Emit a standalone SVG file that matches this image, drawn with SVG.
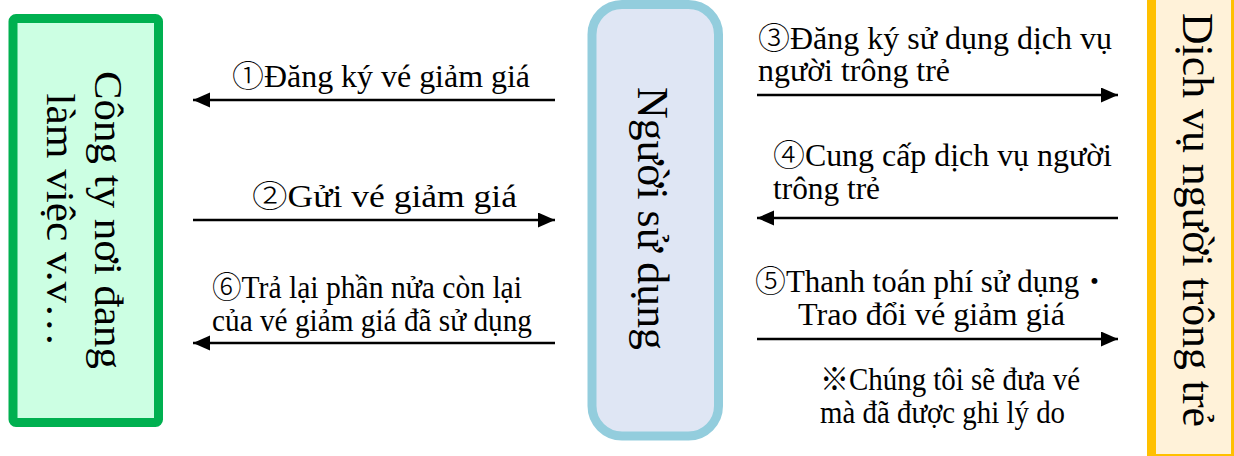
<svg xmlns="http://www.w3.org/2000/svg" width="1234" height="456" viewBox="0 0 1234 456">
<style>
text{font-family:'Liberation Serif','DejaVu Serif',serif;fill:#000}
.lbl{font-size:31px}
.big{text-anchor:middle}
.cjk{font-family:'Noto Sans CJK JP',sans-serif;font-weight:300}
.arr{stroke:#000;stroke-width:2.5;fill:none;marker-end:url(#ah)}
</style>
<defs>
<marker id="ah" markerUnits="userSpaceOnUse" markerWidth="18" markerHeight="16" refX="17" refY="7.5" orient="auto">
<path d="M0,0 L17,7.5 L0,15 z" fill="#000"/>
</marker>
</defs>
<rect width="1234" height="456" fill="#fff"/>

<g id="company">
<rect x="13" y="18.5" width="145.5" height="404" rx="3" fill="#CCFFE3" stroke="#00B050" stroke-width="9"/>
<g transform="translate(95,220) rotate(90)">
<text class="big" font-size="40" x="0" y="0" textLength="298" lengthAdjust="spacingAndGlyphs">Công ty nơi đang</text>
<text class="big" font-size="40" x="0" y="48" textLength="253" lengthAdjust="spacingAndGlyphs">làm việc v.v…</text>
</g>
</g>

<g id="user">
<rect x="592" y="4.5" width="126.5" height="431.5" rx="30" fill="#DFE6F4" stroke="#93CDDD" stroke-width="9"/>
<g transform="translate(638,218.5) rotate(90)">
<text class="big" font-size="45" x="0" y="0" textLength="263" lengthAdjust="spacingAndGlyphs">Người sử dụng</text>
</g>
</g>

<g id="babysitter">
<rect x="1151.5" y="-20" width="84" height="478.5" fill="#FFF2D9" stroke="#FFC000" stroke-width="9"/>
<g transform="translate(1183,220) rotate(90)">
<text class="big" font-size="44" x="0" y="0" textLength="414" lengthAdjust="spacingAndGlyphs">Dịch vụ người trông trẻ</text>
</g>
</g>

<g id="connectors">
<line class="arr" x1="555" y1="100" x2="193" y2="100"/>
<line class="arr" x1="193" y1="220" x2="555" y2="220"/>
<line class="arr" x1="555" y1="343" x2="193" y2="343"/>
<line class="arr" x1="757" y1="95" x2="1118" y2="95"/>
<line class="arr" x1="1118" y1="218" x2="757" y2="218"/>
<line class="arr" x1="757" y1="339" x2="1118" y2="339"/>
</g>

<g id="labels">
<text class="lbl" x="232" y="87" textLength="298" lengthAdjust="spacingAndGlyphs"><tspan class="cjk">①</tspan>Đăng ký vé giảm giá</text>
<text class="lbl" x="252" y="207" textLength="265" lengthAdjust="spacingAndGlyphs"><tspan class="cjk">②</tspan>Gửi vé giảm giá</text>
<text class="lbl" x="212" y="298" textLength="310" lengthAdjust="spacingAndGlyphs"><tspan class="cjk">⑥</tspan>Trả lại phần nửa còn lại</text>
<text class="lbl" x="212" y="331" textLength="320" lengthAdjust="spacingAndGlyphs">của vé giảm giá đã sử dụng</text>
<text class="lbl" x="758" y="49" textLength="354" lengthAdjust="spacingAndGlyphs"><tspan class="cjk">③</tspan>Đăng ký sử dụng dịch vụ</text>
<text class="lbl" x="758" y="81" textLength="192" lengthAdjust="spacingAndGlyphs">người trông trẻ</text>
<text class="lbl" x="773" y="166" textLength="339" lengthAdjust="spacingAndGlyphs"><tspan class="cjk">④</tspan>Cung cấp dịch vụ người</text>
<text class="lbl" x="773" y="199" textLength="107" lengthAdjust="spacingAndGlyphs">trông trẻ</text>
<text class="lbl" x="755" y="292" textLength="355" lengthAdjust="spacingAndGlyphs"><tspan class="cjk">⑤</tspan>Thanh toán phí sử dụng<tspan class="cjk">・</tspan></text>
<text class="lbl" x="798" y="325" textLength="267" lengthAdjust="spacingAndGlyphs">Trao đổi vé giảm giá</text>
<text class="lbl" x="820" y="390" textLength="260" lengthAdjust="spacingAndGlyphs"><tspan class="cjk">※</tspan>Chúng tôi sẽ đưa vé</text>
<text class="lbl" x="820" y="423" textLength="245" lengthAdjust="spacingAndGlyphs">mà đã được ghi lý do</text>
</g>
</svg>
